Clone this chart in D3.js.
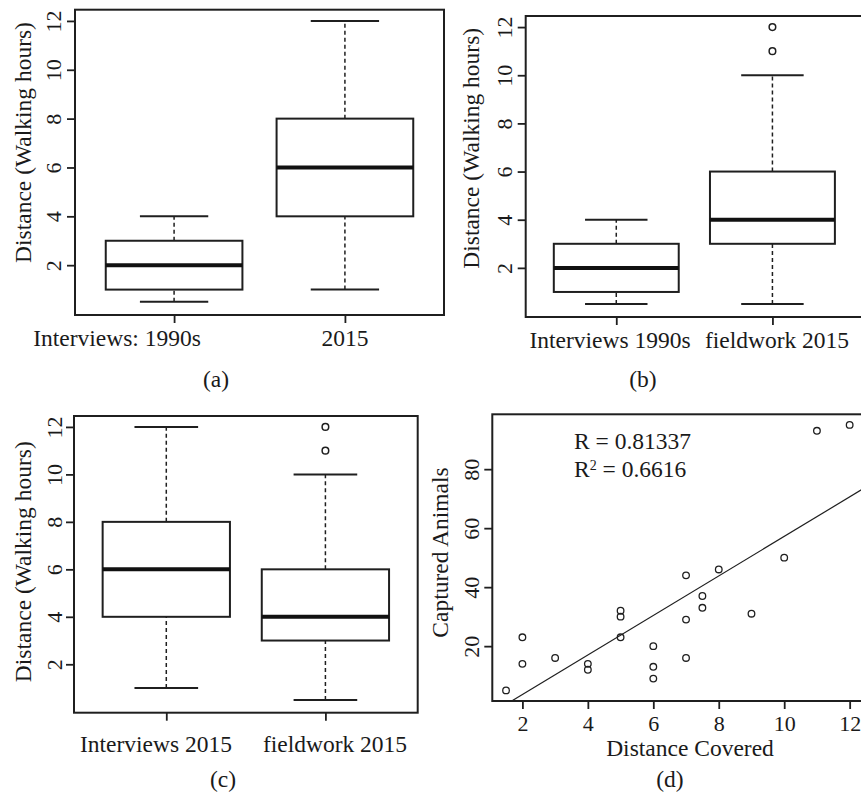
<!DOCTYPE html>
<html>
<head>
<meta charset="utf-8">
<script src="https://cdn.jsdelivr.net/npm/d3@7"></script>
<style>
  body { margin: 0; background: #fff; }
  svg text { font-family: "Liberation Serif", "Times New Roman", serif; fill: #1a1a1a; }
</style>
</head>
<body>
<script>
//Data
    // box stats: [lower whisker, Q1, median, Q3, upper whisker]
    const interviews1990s = [0.5, 1, 2, 3, 4];
    const interviews2015 = [1, 4, 6, 8, 12];
    const fieldwork2015 = [0.5, 3, 4, 6, 10];
    const fieldwork2015Outliers = [11, 12];
    const hoursTicks = [2, 4, 6, 8, 10, 12];

    const labelsA = ["Interviews: 1990s", "2015"];
    const labelsB = ["Interviews 1990s", "fieldwork 2015"];
    const labelsC = ["Interviews 2015", "fieldwork 2015"];
    const hoursTitle = "Distance (Walking hours)";

    // scatter (d)
    const distanceCovered = [1.5, 2, 2, 3, 4, 4, 5, 5, 5, 6, 6, 6, 7, 7, 7, 7.5, 7.5, 8, 9, 10, 11, 12];
    const capturedAnimals = [5, 23, 14, 16, 14, 12, 32, 30, 23, 20, 13, 9, 44, 29, 16, 37, 33, 46, 31, 50, 93, 95];
    const distanceTicks = [2, 4, 6, 8, 10, 12];
    const animalTicks = [20, 40, 60, 80];
    const fitIntercept = -9.8;
    const fitSlope = 6.70;

//Layout
    const width = 861;
    const height = 794;
    const ink = "#1f1f1f";
    const labelSize = "23.5px";
    const tickSize = "22px";

    const svg = d3.select("body")
        .append("svg")
        .attr("width", width)
        .attr("height", height);

    //Y axis with rotated labels, R style
    function leftAxis(g, y, ticks, cfg) {
        const ax = g.append("g")
            .attr("transform", "translate(" + cfg.left + ",0)")
            .call(d3.axisLeft(y).tickValues(ticks).tickSize(8));
        ax.select(".domain").remove();
        ax.selectAll("line").attr("stroke", ink).attr("stroke-width", 1.8);
        ax.selectAll("text")
            .attr("x", 0)
            .attr("dy", null)
            .attr("transform", "translate(" + (cfg.yTickX - cfg.left) + ",0) rotate(-90)")
            .attr("text-anchor", "middle")
            .style("font-size", tickSize);
        ax.attr("font-family", null).attr("font-size", null);
    }

    function yTitle(g, text, cfg) {
        g.append("text")
            .attr("transform", "translate(" + cfg.yTitleX + "," + cfg.yTitleY + ") rotate(-90)")
            .attr("text-anchor", "middle")
            .style("font-size", labelSize)
            .text(text);
    }

    function frame(g, cfg) {
        g.append("rect")
            .attr("x", cfg.left).attr("y", cfg.top)
            .attr("width", cfg.right - cfg.left)
            .attr("height", cfg.bottom - cfg.top)
            .attr("fill", "none")
            .attr("stroke", ink)
            .attr("stroke-width", 2);
    }

    function caption(g, text, cfg) {
        g.append("text")
            .attr("x", cfg.caption[0]).attr("y", cfg.caption[1])
            .attr("text-anchor", "middle")
            .style("font-size", labelSize)
            .text(text);
    }

    //Box plot panel
    function boxPanel(cfg, labels, groups, cap) {
        const g = svg.append("g");
        const x = d3.scaleLinear().domain([0.42, 2.58]).range([cfg.left, cfg.right]);
        const y = d3.scaleLinear().domain([-0.04, 12.46]).range([cfg.bottom, cfg.top]);

        groups.forEach((grp, i) => {
            const pos = i + 1;
            const s = grp.stats;
            const bg = g.append("g");
            // whiskers
            [[s[0], s[1]], [s[3], s[4]]].forEach(w => {
                bg.append("line")
                    .attr("x1", x(pos)).attr("x2", x(pos))
                    .attr("y1", y(w[0])).attr("y2", y(w[1]))
                    .attr("stroke", ink).attr("stroke-width", 1.5)
                    .attr("stroke-dasharray", "4,3");
            });
            // staples
            [s[0], s[4]].forEach(v => {
                bg.append("line")
                    .attr("x1", x(pos - 0.2)).attr("x2", x(pos + 0.2))
                    .attr("y1", y(v)).attr("y2", y(v))
                    .attr("stroke", ink).attr("stroke-width", 2);
            });
            // box
            bg.append("rect")
                .attr("x", x(pos - 0.4))
                .attr("y", y(s[3]))
                .attr("width", x(pos + 0.4) - x(pos - 0.4))
                .attr("height", y(s[1]) - y(s[3]))
                .attr("fill", "#fff")
                .attr("stroke", ink).attr("stroke-width", 2);
            // median
            bg.append("line")
                .attr("x1", x(pos - 0.4)).attr("x2", x(pos + 0.4))
                .attr("y1", y(s[2])).attr("y2", y(s[2]))
                .attr("stroke", "#111").attr("stroke-width", 4);
            // outliers
            bg.selectAll("circle")
                .data(grp.outliers)
                .join("circle")
                .attr("cx", x(pos))
                .attr("cy", d => y(d))
                .attr("r", 3.3)
                .attr("fill", "none")
                .attr("stroke", ink).attr("stroke-width", 1.5);
        });

        frame(g, cfg);
        leftAxis(g, y, hoursTicks, cfg);

        const xa = g.append("g")
            .attr("transform", "translate(0," + cfg.bottom + ")")
            .call(d3.axisBottom(x).tickValues([1, 2]).tickSize(8).tickFormat(""));
        xa.select(".domain").remove();
        xa.selectAll("line").attr("stroke", ink).attr("stroke-width", 1.8);

        g.selectAll(".cat")
            .data(labels)
            .join("text")
            .attr("class", "cat")
            .attr("x", (d, i) => cfg.labelX[i])
            .attr("y", cfg.labelY)
            .attr("text-anchor", "middle")
            .style("font-size", labelSize)
            .text(d => d);

        yTitle(g, hoursTitle, cfg);
        caption(g, cap, cfg);
    }

    boxPanel({left: 75, right: 444, top: 9.7, bottom: 315,
              yTickX: 60.6, yTitleX: 31, yTitleY: 142.5,
              labelX: [117, 345], labelY: 346, caption: [216, 387]},
             labelsA,
             [{stats: interviews1990s, outliers: []}, {stats: interviews2015, outliers: []}],
             "(a)");

    boxPanel({left: 525.7, right: 863, top: 16, bottom: 317,
              yTickX: 512, yTitleX: 479, yTitleY: 148.3,
              labelX: [610, 777], labelY: 348, caption: [643, 387]},
             labelsB,
             [{stats: interviews1990s, outliers: []}, {stats: fieldwork2015, outliers: fieldwork2015Outliers}],
             "(b)");

    boxPanel({left: 74, right: 417.7, top: 416, bottom: 712.7,
              yTickX: 62, yTitleX: 31, yTitleY: 561.7,
              labelX: [156, 335], labelY: 752.3, caption: [223, 787]},
             labelsC,
             [{stats: interviews2015, outliers: []}, {stats: fieldwork2015, outliers: fieldwork2015Outliers}],
             "(c)");

//Scatter panel (d)
    const cfgD = {left: 492.3, right: 863.4, top: 414.3, bottom: 701,
                  yTickX: 479, yTitleX: 448, yTitleY: 552.5, caption: [670, 787]};
    const gd = svg.append("g");
    const xD = d3.scaleLinear().domain([1.08, 12.42]).range([cfgD.left, cfgD.right]);
    const yD = d3.scaleLinear().domain([1.4, 98.6]).range([cfgD.bottom, cfgD.top]);

    gd.append("clipPath").attr("id", "clipD")
        .append("rect")
        .attr("x", cfgD.left).attr("y", cfgD.top)
        .attr("width", cfgD.right - cfgD.left)
        .attr("height", cfgD.bottom - cfgD.top);

    const fitLine = d3.line()
        .x(d => xD(d))
        .y(d => yD(fitIntercept + fitSlope * d));
    gd.append("path")
        .datum(xD.domain())
        .attr("d", fitLine)
        .attr("fill", "none")
        .attr("stroke", ink)
        .attr("stroke-width", 1.2)
        .attr("clip-path", "url(#clipD)");

    gd.selectAll(".pt")
        .data(distanceCovered.map((d, i) => ({x: d, y: capturedAnimals[i]})))
        .join("circle")
        .attr("class", "pt")
        .attr("cx", d => xD(d.x))
        .attr("cy", d => yD(d.y))
        .attr("r", 3.3)
        .attr("fill", "none")
        .attr("stroke", ink)
        .attr("stroke-width", 1.3);

    frame(gd, cfgD);
    leftAxis(gd, yD, animalTicks, cfgD);

    const xaD = gd.append("g")
        .attr("transform", "translate(0," + cfgD.bottom + ")")
        .call(d3.axisBottom(xD).tickValues(distanceTicks).tickSize(8).tickPadding(6));
    xaD.select(".domain").remove();
    xaD.attr("font-family", null).attr("font-size", null);
    xaD.selectAll("line").attr("stroke", ink).attr("stroke-width", 1.8);
    xaD.selectAll("text").style("font-size", tickSize);

    gd.append("text")
        .attr("x", 690).attr("y", 755.5)
        .attr("text-anchor", "middle")
        .style("font-size", labelSize)
        .text("Distance Covered");

    yTitle(gd, "Captured Animals", cfgD);

    const stats = gd.append("g").style("font-size", labelSize);
    stats.append("text")
        .attr("x", 574).attr("y", 449)
        .text("R = 0.81337");
    const r2 = stats.append("text")
        .attr("x", 574).attr("y", 476.7);
    r2.append("tspan").text("R");
    r2.append("tspan").attr("dy", -7).style("font-size", "14px").text("2");
    r2.append("tspan").attr("dy", 7).text(" = 0.6616");

    caption(gd, "(d)", cfgD);
</script>
</body>
</html>
